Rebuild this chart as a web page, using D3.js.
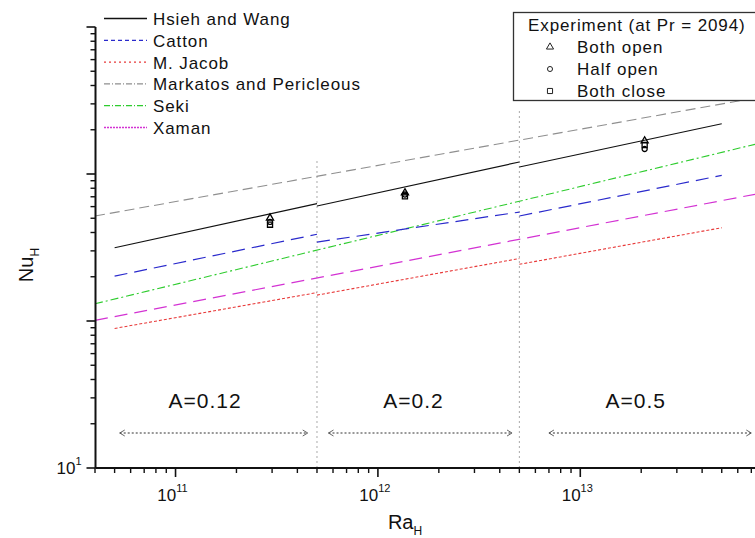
<!DOCTYPE html>
<html><head><meta charset="utf-8">
<script src="https://cdn.jsdelivr.net/npm/d3@7"></script>
<style>body{margin:0;background:#fff} svg{display:block} text{font-family:"Liberation Sans",Arial,sans-serif;fill:#111}</style>
</head><body><svg id="c" width="755" height="538"></svg>
<script>
// ---------- data ----------
const seriesNames = ["Hsieh and Wang","Catton","M. Jacob","Markatos and Pericleous","Seki","Xaman"];
const regionRa = [[5e10,5e11],[5e11,5e12],[5e12,5e13]];
const hsiehNu = [[315,628],[606,1207],[1116,2198]];
const cattonNu = [[202,389],[344,551],[518,979]];
const jacobNu = [[89,156],[150,266],[243,431]];
const continuousRa = [4e10, 7.3e13];
const markatosNu = [518, 3289];
const sekiNu = [131, 1592];
const xamanNu = [101, 728];
const expRa = [2.93e11, 1.36e12, 2.08e13];
const bothOpenNu = [502, 745, 1680];
const halfOpenNu = [472, 725, 1480];
const bothCloseNu = [452, 705, 1575];
const expTitle = "Experiment (at Pr = 2094)";
const expLabels = ["Both open","Half open","Both close"];
const separatorRa = [5e11, 5e12];
const separatorTopNu = [1250, 2700];
const regionLabels = ["A=0.12","A=0.2","A=0.5"];
const regionLabelRa = [1.4e11, 1.5e12, 1.88e13];
const regionLabelNu = 28.6;
const arrowRa = [[5.3e10,4.5e11],[5.7e11,4.6e12],[7e12,7e13]];
const arrowNu = 17.3;
const xMajorTicks = [1e11,1e12,1e13];
const xTickExp = ["11","12","13"];
const yMajorTicks = [10,100,1000,10000];
const yTickExp = ["1"]; // only the bottom decade is labelled

// ---------- styles ----------
const styles = [
  {color:"#111", dash:null, legDash:null, w:1.2},
  {color:"#2a2acc", dash:"13,7", legDash:"4,3", w:1.2},
  {color:"#e83a3a", dash:"3,2", legDash:"2,3", w:1.1},
  {color:"#8f8f8f", dash:"10,5", legDash:"6,2,1,2", w:1.1},
  {color:"#2ecc2e", dash:"8,3,2,3", legDash:"6,2,1,2", w:1.1},
  {color:"#d332d3", dash:"13,7", legDash:"2,1", w:1.2}
];

const svg = d3.select("#c");
const x = d3.scaleLog().domain([4e10, 7.3e13]).range([95, 755]);
const y = d3.scaleLog().domain([10, 1e4]).range([468, 27]);
const line = d3.line().x(d=>x(d[0])).y(d=>y(d[1]));

// separators
svg.selectAll("line.sep").data(separatorRa).enter().append("line")
  .attr("x1",d=>x(d)).attr("x2",d=>x(d))
  .attr("y1",y(10)).attr("y2",(d,i)=>y(separatorTopNu[i]))
  .attr("stroke","#aaa").attr("stroke-width",1).attr("stroke-dasharray","2,3");

// continuous lines
[[3,markatosNu],[4,sekiNu],[5,xamanNu]].forEach(([si,nu])=>{
  const s = styles[si];
  svg.append("path").attr("d", line(continuousRa.map((r,i)=>[r,nu[i]])))
    .attr("fill","none").attr("stroke",s.color).attr("stroke-width",s.w)
    .attr("stroke-dasharray",s.dash);
});
// segmented lines
[[0,hsiehNu],[1,cattonNu],[2,jacobNu]].forEach(([si,arr])=>{
  const s = styles[si];
  arr.forEach((nu,k)=>{
    svg.append("path").attr("d", line(regionRa[k].map((r,i)=>[r,nu[i]])))
      .attr("fill","none").attr("stroke",s.color).attr("stroke-width",s.w)
      .attr("stroke-dasharray",s.dash);
  });
});

// experimental points
const symTypes = [d3.symbolTriangle, d3.symbolCircle, d3.symbolSquare];
const symSizes = [22, 20, 26];
[bothOpenNu, halfOpenNu, bothCloseNu].forEach((arr,si)=>{
  svg.selectAll(null).data(arr).enter().append("path")
    .attr("d", d3.symbol().type(symTypes[si]).size(symSizes[si]))
    .attr("transform",(d,i)=>`translate(${x(expRa[i])},${y(d)})`)
    .attr("fill","none").attr("stroke","#000").attr("stroke-width",1.3);
});

// region labels
svg.selectAll("text.reg").data(regionLabels).enter().append("text")
  .attr("x",(d,i)=>x(regionLabelRa[i])).attr("y",y(regionLabelNu))
  .attr("dy","0.36em").attr("text-anchor","middle")
  .attr("font-size",21).attr("letter-spacing",1)
  .text(d=>d);

// dotted double arrows
arrowRa.forEach(([a,b])=>{
  const x1=x(a), x2=x(b), yy=y(arrowNu);
  svg.append("line").attr("x1",x1).attr("x2",x2).attr("y1",yy).attr("y2",yy)
    .attr("stroke","#333").attr("stroke-width",1).attr("stroke-dasharray","2,2");
  svg.append("path").attr("d",`M${x1+5},${yy-3}L${x1},${yy}L${x1+5},${yy+3}`)
    .attr("fill","none").attr("stroke","#555").attr("stroke-width",0.9);
  svg.append("path").attr("d",`M${x2-5},${yy-3}L${x2},${yy}L${x2-5},${yy+3}`)
    .attr("fill","none").attr("stroke","#555").attr("stroke-width",0.9);
});

// ---------- axes ----------
const xMinor = [];
for (let n=10;n<=13;n++) for (let k=2;k<=9;k++){ const v=k*Math.pow(10,n); if(v>=4e10 && v<=7.3e13 && !xMajorTicks.includes(v)) xMinor.push(v); }
const yMinor = [];
for (let n=1;n<=3;n++) for (let k=2;k<=9;k++) yMinor.push(k*Math.pow(10,n));

const y0 = y(10), x0 = x(4e10)+0.5;
svg.append("line").attr("x1",x0).attr("x2",755).attr("y1",y0).attr("y2",y0).attr("stroke","#111").attr("stroke-width",2);
svg.append("line").attr("x1",x0).attr("x2",x0).attr("y1",y0).attr("y2",y(1e4)).attr("stroke","#111").attr("stroke-width",2);

svg.selectAll(null).data(xMinor).enter().append("line")
  .attr("x1",d=>x(d)).attr("x2",d=>x(d)).attr("y1",y0).attr("y2",y0+5)
  .attr("stroke","#111").attr("stroke-width",1.4);
svg.selectAll(null).data(xMajorTicks).enter().append("line")
  .attr("x1",d=>x(d)).attr("x2",d=>x(d)).attr("y1",y0).attr("y2",y0+9)
  .attr("stroke","#111").attr("stroke-width",1.6);
svg.selectAll(null).data(yMinor).enter().append("line")
  .attr("y1",d=>y(d)).attr("y2",d=>y(d)).attr("x1",x0).attr("x2",x0-5)
  .attr("stroke","#111").attr("stroke-width",1.4);
svg.selectAll(null).data(yMajorTicks).enter().append("line")
  .attr("y1",d=>y(d)).attr("y2",d=>y(d)).attr("x1",x0).attr("x2",x0-9)
  .attr("stroke","#111").attr("stroke-width",1.6);

// x tick labels
xMajorTicks.forEach((v,i)=>{
  const t = svg.append("text").attr("x",x(v)-3).attr("y",y0+33)
    .attr("text-anchor","middle").attr("font-size",17);
  t.append("tspan").text("10");
  t.append("tspan").attr("dy",-9).attr("font-size",11).text(xTickExp[i]);
});
// y tick labels
yTickExp.forEach((e,i)=>{
  const t = svg.append("text").attr("x",x0-14).attr("y",y(yMajorTicks[i])+6)
    .attr("text-anchor","end").attr("font-size",17);
  t.append("tspan").text("10");
  t.append("tspan").attr("dy",-9).attr("font-size",11).text(e);
});

// axis titles
const xt = svg.append("text").attr("x",405).attr("y",529).attr("text-anchor","middle").attr("font-size",20);
xt.append("tspan").text("Ra");
xt.append("tspan").attr("dy",6).attr("font-size",12).text("H");
const yt = svg.append("text").attr("transform","translate(33,265) rotate(-90)").attr("text-anchor","middle").attr("font-size",20);
yt.append("tspan").text("Nu");
yt.append("tspan").attr("dy",6).attr("font-size",12).text("H");

// ---------- legend 1 ----------
const leg = svg.append("g");
seriesNames.forEach((name,i)=>{
  const by = 25 + i*21.8, s = styles[i];
  leg.append("line").attr("x1",104).attr("x2",147).attr("y1",by-6.5).attr("y2",by-6.5)
    .attr("stroke",s.color).attr("stroke-width",1.3).attr("stroke-dasharray",s.legDash);
  leg.append("text").attr("x",153).attr("y",by).attr("font-size",17).attr("letter-spacing",0.9).text(name);
});

// ---------- legend 2 ----------
const leg2 = svg.append("g");
leg2.append("rect").attr("x",513.5).attr("y",12.5).attr("width",260).attr("height",88)
  .attr("fill","#fff").attr("stroke","#333").attr("stroke-width",1.3);
leg2.append("text").attr("x",528).attr("y",31).attr("font-size",17).attr("letter-spacing",0.9).text(expTitle);
expLabels.forEach((lab,i)=>{
  const by = 53 + i*22;
  leg2.append("path").attr("d", d3.symbol().type(symTypes[i]).size(symSizes[i]))
    .attr("transform",`translate(550,${by-6})`).attr("fill","none").attr("stroke","#222").attr("stroke-width",1);
  leg2.append("text").attr("x",577).attr("y",by).attr("font-size",17).attr("letter-spacing",1).text(lab);
});
</script></body></html>
